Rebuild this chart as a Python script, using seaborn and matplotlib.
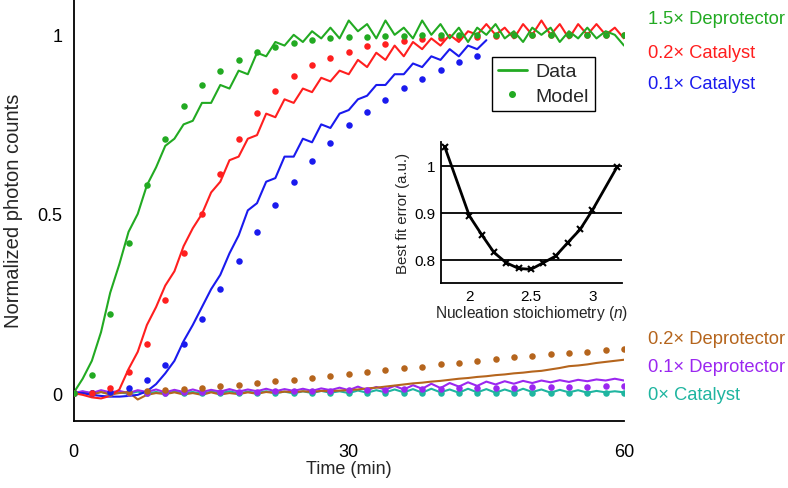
import numpy as np
import matplotlib
matplotlib.use("Agg")
import matplotlib.pyplot as plt
from matplotlib.lines import Line2D
import seaborn as sns

# ---- data ----
# measured traces, one sample per minute
t_data = list(range(61))
green_data = [0.0, 0.04, 0.09, 0.17, 0.28, 0.36, 0.45, 0.50, 0.58, 0.63, 0.69, 0.71, 0.75, 0.76, 0.81, 0.81,
              0.86, 0.85, 0.90, 0.89, 0.95, 0.94, 0.98, 0.97, 1.00, 0.98, 1.01, 0.99, 1.02, 0.99, 1.04, 1.01,
              1.03, 0.99, 1.04, 1.00, 1.02, 0.99, 1.04, 1.00, 1.03, 0.99, 1.02, 0.98, 1.02, 1.00, 1.03, 0.99,
              1.01, 0.98, 1.02, 1.00, 1.02, 0.98, 1.01, 0.99, 1.02, 0.99, 1.01, 1.00, 0.97]
red_data = [0.0, -0.005, -0.012, -0.015, -0.008, 0.01, 0.067, 0.115, 0.19, 0.24, 0.30, 0.34, 0.41, 0.46, 0.50, 0.56,
            0.59, 0.65, 0.66, 0.71, 0.72, 0.78, 0.77, 0.82, 0.81, 0.85, 0.84, 0.88, 0.87, 0.90, 0.89, 0.93,
            0.91, 0.95, 0.93, 0.97, 0.94, 0.98, 0.96, 0.99, 0.97, 1.00, 0.98, 1.01, 1.00, 1.03, 1.00, 1.02,
            0.99, 1.03, 1.00, 1.04, 1.00, 1.03, 0.99, 1.03, 1.00, 1.03, 1.00, 1.02, 0.99]
t_blue = list(range(46))
blue_data = [0.0, 0.0, -0.005, -0.008, -0.01, -0.01, -0.008, -0.005, 0.005, 0.025, 0.055, 0.09, 0.145, 0.19, 0.24,
             0.29, 0.33, 0.39, 0.44, 0.51, 0.53, 0.59, 0.60, 0.66, 0.66, 0.71, 0.70, 0.75, 0.74, 0.78, 0.79,
             0.82, 0.83, 0.86, 0.86, 0.89, 0.89, 0.92, 0.91, 0.94, 0.93, 0.96, 0.94, 0.97, 0.96, 0.985]
brown_data = [0.0, 0.0, -0.005, 0.003, -0.004, 0.0, 0.003, -0.018, -0.005, 0.0, -0.003, 0.002, -0.004, 0.0, -0.005,
              0.002, -0.004, 0.0, -0.003, 0.002, -0.002, 0.003, 0.0, 0.004, 0.002, 0.005, 0.003, 0.006, 0.005,
              0.007, 0.008, 0.010, 0.013, 0.015, 0.018, 0.021, 0.024, 0.027, 0.029, 0.032, 0.034, 0.037, 0.040,
              0.042, 0.045, 0.047, 0.050, 0.052, 0.055, 0.057, 0.060, 0.062, 0.066, 0.070, 0.075, 0.077, 0.080,
              0.084, 0.087, 0.090, 0.093]
purple_data = [0.0, 0.005, 0.0, 0.008, 0.002, 0.006, 0.0, 0.008, 0.003, 0.010, 0.002, 0.009, 0.003, 0.010, 0.003,
               0.009, 0.004, 0.011, 0.004, 0.010, 0.005, 0.012, 0.005, 0.011, 0.006, 0.012, 0.006, 0.013, 0.008,
               0.015, 0.008, 0.018, 0.008, 0.017, 0.010, 0.020, 0.010, 0.022, 0.012, 0.026, 0.014, 0.028, 0.018,
               0.030, 0.020, 0.032, 0.024, 0.033, 0.026, 0.034, 0.028, 0.035, 0.030, 0.036, 0.031, 0.037, 0.033,
               0.038, 0.035, 0.040, 0.035]
teal_data = [0.0, 0.004, -0.002, 0.003, -0.003, 0.002, -0.002, 0.004, -0.001, 0.003, -0.002, 0.004, 0.0, 0.003,
             -0.002, 0.004, 0.0, 0.005, -0.001, 0.004, 0.0, 0.005, 0.0, 0.004, -0.001, 0.005, 0.0, 0.006, 0.001,
             0.005, 0.0, 0.007, 0.001, 0.008, 0.002, 0.010, 0.002, 0.011, 0.001, 0.012, 0.002, 0.010, 0.001,
             0.012, 0.002, 0.011, 0.001, 0.010, 0.002, 0.012, 0.003, 0.010, 0.001, 0.009, 0.002, 0.008, 0.001,
             0.006, 0.002, 0.005, 0.002]

# model points, one every 2 min
t_model = list(range(0, 61, 2))
green_model = [0.0, 0.05, 0.22, 0.42, 0.58, 0.71, 0.80, 0.86, 0.90, 0.93, 0.953, 0.967, 0.977, 0.985, 0.99, 0.993,
               0.995, 0.997, 0.998, 0.999, 1.0, 1.0, 1.0, 1.0, 1.0, 1.0, 1.0, 1.0, 1.0, 1.0, 1.0]
red_model = [0.0, 0.0, 0.013, 0.058, 0.137, 0.26, 0.39, 0.50, 0.612, 0.708, 0.782, 0.842, 0.884, 0.915, 0.936,
             0.953, 0.97, 0.975, 0.982, 0.987, 0.99, 0.993, 0.995, 0.998, 1.0, 1.0, 1.0, 1.0, 1.0, 1.0, 1.0]
t_blue_model = list(range(0, 45, 2))
blue_model = [0.0, 0.0, 0.003, 0.013, 0.036, 0.079, 0.137, 0.207, 0.29, 0.37, 0.45, 0.525, 0.59, 0.649, 0.698,
              0.747, 0.784, 0.819, 0.851, 0.877, 0.902, 0.923, 0.94]
brown_model = [0.0, 0.0, 0.0, 0.002, 0.005, 0.008, 0.012, 0.014, 0.019, 0.023, 0.028, 0.033, 0.037, 0.043, 0.048,
               0.054, 0.058, 0.063, 0.069, 0.074, 0.080, 0.085, 0.090, 0.096, 0.100, 0.103, 0.108, 0.112, 0.116,
               0.120, 0.122]
purple_model = [0.0, 0.0, 0.0, 0.0, 0.001, 0.001, 0.002, 0.002, 0.003, 0.003, 0.004, 0.005, 0.005, 0.006, 0.007,
                0.008, 0.008, 0.009, 0.010, 0.011, 0.012, 0.013, 0.013, 0.014, 0.015, 0.016, 0.017, 0.017, 0.018,
                0.019, 0.020]
teal_model = [0.0, 0.0, 0.0, 0.0, 0.0, 0.0, 0.0, 0.0, 0.0, 0.0, 0.0, 0.0, 0.0, 0.0, 0.0, 0.0,
              0.0, 0.0, 0.0, 0.0, 0.0, 0.0, 0.0, 0.0, 0.0, 0.0, 0.0, 0.0, 0.0, 0.0, 0.0]

# inset: fit error vs nucleation stoichiometry
n_stoich = [1.8, 2.0, 2.1, 2.2, 2.3, 2.4, 2.5, 2.6, 2.7, 2.8, 2.9, 3.0, 3.2]
fit_error = [1.04, 0.893, 0.853, 0.815, 0.793, 0.781, 0.779, 0.793, 0.807, 0.836, 0.864, 0.905, 0.997]

GREEN = "#22aa22"
RED = "#ff1f1f"
BLUE = "#1a1aee"
BROWN = "#b5651d"
PURPLE = "#9b27f0"
TEAL = "#1fb5a0"

labels = ["1.5\u00d7 Deprotector", "0.2\u00d7 Catalyst", "0.1\u00d7 Catalyst",
          "0.2\u00d7 Deprotector", "0.1\u00d7 Deprotector", "0\u00d7 Catalyst"]
label_colors = [GREEN, RED, BLUE, BROWN, PURPLE, TEAL]
label_ypix = [20, 53, 85, 339, 368, 396]

# ---- style ----
sns.set_style("white")
plt.rcParams["font.family"] = ["Liberation Sans", "DejaVu Sans"]
plt.rcParams["mathtext.fontset"] = "custom"
plt.rcParams["mathtext.it"] = "Liberation Sans:italic"
plt.rcParams["mathtext.rm"] = "Liberation Sans"

W, H = 788, 489
fig = plt.figure(figsize=(W / 100, H / 100), dpi=100)
ax = fig.add_axes([73.5 / W, 1 - 422 / H, (624 - 73.5) / W, 422 / H])

series = [
    (t_data, teal_data, t_model, teal_model, TEAL),
    (t_data, purple_data, t_model, purple_model, PURPLE),
    (t_data, brown_data, t_model, brown_model, BROWN),
    (t_blue, blue_data, t_blue_model, blue_model, BLUE),
    (t_data, red_data, t_model, red_model, RED),
    (t_data, green_data, t_model, green_model, GREEN),
]
for tx, ty, mx, my, c in series:
    sns.lineplot(x=tx, y=ty, ax=ax, color=c, linewidth=1.5, estimator=None, sort=False)
    sns.scatterplot(x=mx, y=my, ax=ax, color=c, s=22, linewidth=0, zorder=3)

ax.set_xlim(0, 60)
ax.set_ylim(-0.078, 1.10)
ax.set_xticks([0, 30, 60])
ax.set_yticks([0, 0.5, 1])
ax.set_yticklabels(["0", "0.5", "1"])
ax.tick_params(direction="in", length=5, width=1, labelsize=13, colors="black", pad=8)
ax.tick_params(axis="x", pad=16)
for side in ["top", "right"]:
    ax.spines[side].set_visible(False)
for side in ["left", "bottom"]:
    ax.spines[side].set_color("black")
    ax.spines[side].set_linewidth(1.3)
ax.set_xlabel("Time (min)", fontsize=13, labelpad=0)
ax.set_ylabel("Normalized photon counts", fontsize=14.5, labelpad=10)

handles = [Line2D([0], [0], color=GREEN, lw=2),
           Line2D([0], [0], color=GREEN, lw=0, marker="o", markersize=4)]
leg = ax.legend(handles, ["Data", "Model"], loc="upper left", bbox_to_anchor=(492 / W, 1 - 58 / H),
                bbox_transform=fig.transFigure, borderaxespad=0, fontsize=14, fancybox=False,
                edgecolor="black", framealpha=1, handlelength=1.5, handletextpad=0.45,
                borderpad=0.3, labelspacing=0.35)
leg.get_frame().set_linewidth(1.0)

for txt, c, yp in zip(labels, label_colors, label_ypix):
    fig.text(648 / W, 1 - yp / H, txt, color=c, fontsize=13.2, ha="left", va="center")

# ---- inset ----
axi = fig.add_axes([441 / W, 1 - 284 / H, (622 - 441) / W, (284 - 143) / H])
axi.set_facecolor("white")
for yv in [0.8, 0.9, 1.0]:
    axi.axhline(yv, color="black", linewidth=1.3, zorder=1)
sns.lineplot(x=n_stoich, y=fit_error, ax=axi, color="black", linewidth=2, marker="x",
             markersize=4, markeredgewidth=1.5, markeredgecolor="black", estimator=None, zorder=3)
axi.set_xlim(1.77, 3.24)
axi.set_ylim(0.75, 1.05)
axi.set_xticks([2, 2.5, 3])
axi.set_xticklabels(["2", "2.5", "3"])
axi.set_yticks([0.8, 0.9, 1.0])
axi.set_yticklabels(["0.8", "0.9", "1"])
axi.tick_params(direction="in", length=3, width=1, labelsize=11, colors="black", pad=4)
for side in ["top", "right"]:
    axi.spines[side].set_visible(False)
for side in ["left", "bottom"]:
    axi.spines[side].set_color("black")
    axi.spines[side].set_linewidth(1.3)
axi.set_xlabel(r"Nucleation stoichiometry ($\mathit{n}$)", fontsize=11.2, labelpad=0)
axi.set_ylabel("Best fit error (a.u.)", fontsize=10.8, labelpad=3)

fig.savefig("out.png", dpi=100)
